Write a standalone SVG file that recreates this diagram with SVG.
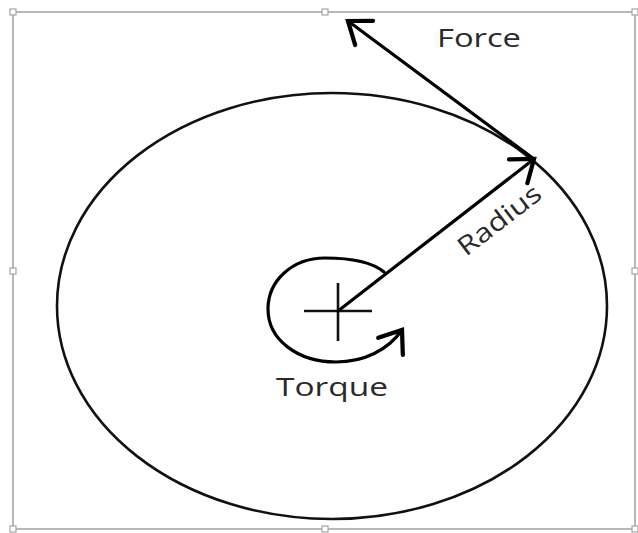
<svg xmlns="http://www.w3.org/2000/svg" width="638" height="533" viewBox="0 0 638 533">
<defs>
<style>
.frame{fill:none;stroke:#a6a6a6;stroke-width:1.6}
.handle{fill:#fff;stroke:#a6a6a6;stroke-width:1.2}
.shape{fill:none;stroke:#111;stroke-width:2.6}
.arrow{fill:none;stroke:#000;stroke-width:3.2;stroke-linecap:round}
.lbl{font-family:"Open Sans","Noto Sans",sans-serif;font-size:26px;fill:#2a2a2a}
</style>
<marker id="head" markerUnits="userSpaceOnUse" markerWidth="40" markerHeight="40" viewBox="-22 -16 26 32" refX="0" refY="0" orient="auto">
<path d="M-16,-12 L0,0 L-16,12" fill="none" stroke="#000" stroke-width="3.4" stroke-linecap="round" stroke-linejoin="miter"/>
</marker>
</defs>
<rect width="638" height="533" fill="#fff"/>
<g id="frame">
<rect class="frame" x="13" y="12" width="622" height="517"/>
<rect class="handle" x="10" y="9" width="6" height="6"/>
<rect class="handle" x="322" y="9" width="6" height="6"/>
<rect class="handle" x="632" y="9" width="6" height="6"/>
<rect class="handle" x="10" y="268" width="6" height="6"/>
<rect class="handle" x="632" y="268" width="6" height="6"/>
<rect class="handle" x="10" y="526" width="6" height="6"/>
<rect class="handle" x="322" y="526" width="6" height="6"/>
<rect class="handle" x="632" y="526" width="6" height="6"/>
</g>
<g id="disk">
<ellipse class="shape" cx="332" cy="306" rx="275" ry="213"/>
</g>
<g id="axis">
<line class="shape" x1="304" y1="311" x2="372" y2="311"/>
<line class="shape" x1="338" y1="283" x2="338" y2="341"/>
</g>
<g id="connectors">
<line class="arrow" x1="338" y1="311" x2="534" y2="159" marker-end="url(#head)"/>
<line class="arrow" x1="534" y1="159" x2="348" y2="21" marker-end="url(#head)"/>
<path class="arrow" d="M384,272 C372,262 352,258 325,258 C292,258 268,281 268,309 C268,340 298,362 336,362 C364,362 388,350 402,330" marker-end="url(#head)"/>
</g>
<g id="labels">
<text class="lbl" x="437" y="47" textLength="84" lengthAdjust="spacingAndGlyphs">Force</text>
<text class="lbl" x="276" y="396" textLength="112" lengthAdjust="spacingAndGlyphs">Torque</text>
<text class="lbl" transform="translate(466,257) rotate(-37.6)" textLength="98" lengthAdjust="spacingAndGlyphs">Radius</text>
</g>
</svg>
